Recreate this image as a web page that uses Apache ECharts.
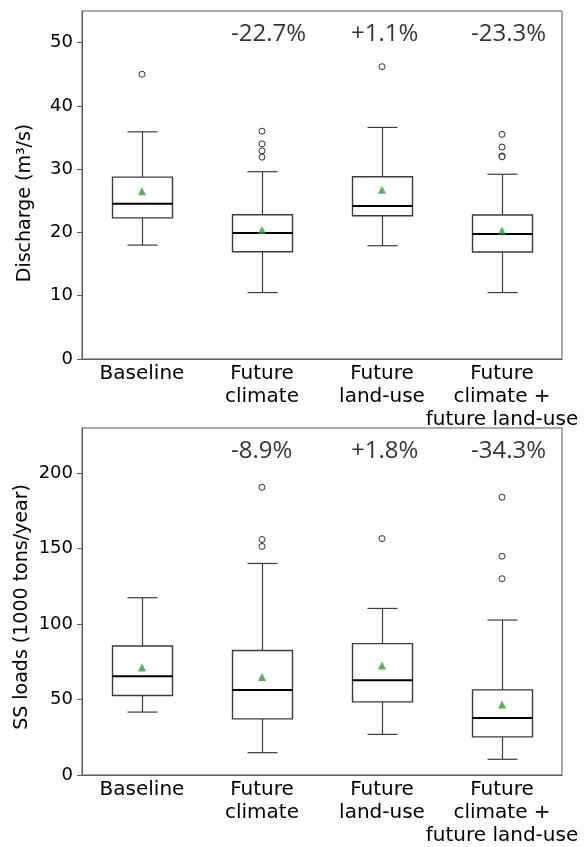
<!DOCTYPE html>
<html>
<head>
<meta charset="utf-8">
<script src="https://cdn.jsdelivr.net/npm/echarts@6/dist/echarts.min.js"></script>
<style>
html,body{margin:0;padding:0;background:#fff;}
#chart{width:584px;height:847px;}
</style>
</head>
<body>
<div id="chart"></div>
<script>
// ---------- data ----------
const categories = ['Baseline', 'Future\nclimate', 'Future\nland-use', 'Future\nclimate +\nfuture land-use'];

// [lower whisker, Q1, median, Q3, upper whisker]
const dischargeStats = [
  [18.0, 22.3, 24.55, 28.75, 35.9],
  [10.5, 16.95, 19.9, 22.8, 29.6],
  [17.9, 22.65, 24.2, 28.8, 36.6],
  [10.5, 16.9, 19.75, 22.75, 29.2]
];
const dischargeMeans = [26.5, 20.4, 26.75, 20.3];
const dischargeOutliers = [[45.0], [36.0, 34.0, 32.9, 31.9], [46.2], [35.5, 33.5, 32.1, 31.95]];
const dischargeChanges = ['', '-22.7%', '+1.1%', '-23.3%'];

const ssStats = [
  [41.7, 52.7, 65.5, 85.5, 117.5],
  [14.8, 37.2, 56.4, 82.5, 140.2],
  [26.9, 48.5, 62.8, 87.1, 110.4],
  [10.4, 25.3, 37.7, 56.4, 102.7]
];
const ssMeans = [71.2, 65.0, 72.5, 46.8];
const ssOutliers = [[], [190.7, 156.1, 151.5], [156.7], [184.1, 145.0, 130.1]];
const ssChanges = ['', '-8.9%', '+1.8%', '-34.3%'];

const dischargeTicks = [0, 10, 20, 30, 40, 50];
const ssTicks = [0, 50, 100, 150, 200];

// ---------- styles ----------
const FONT = 'DejaVu Sans';
const edgeColor = '#3c3c3c';
const frameColor = '#5a5a5a';

function boxRender(params, api) {
  const x = api.value(0);
  const pLow = api.coord([x, api.value(1)]);
  const pQ1 = api.coord([x, api.value(2)]);
  const pMed = api.coord([x, api.value(3)]);
  const pQ3 = api.coord([x, api.value(4)]);
  const pHigh = api.coord([x, api.value(5)]);
  const band = api.size([1, 0])[0];
  const hb = band * 0.25, hc = band * 0.125;
  const cx = Math.round(pMed[0]) + 0.5;
  const s = {stroke: edgeColor, lineWidth: 1.2, fill: null};
  return {
    type: 'group',
    children: [
      {type: 'line', shape: {x1: cx, y1: pLow[1], x2: cx, y2: pQ1[1]}, style: s},
      {type: 'line', shape: {x1: cx, y1: pQ3[1], x2: cx, y2: pHigh[1]}, style: s},
      {type: 'line', shape: {x1: cx - hc, y1: pLow[1], x2: cx + hc, y2: pLow[1]}, style: s},
      {type: 'line', shape: {x1: cx - hc, y1: pHigh[1], x2: cx + hc, y2: pHigh[1]}, style: s},
      {type: 'rect', shape: {x: cx - hb, y: pQ3[1], width: 2 * hb, height: pQ1[1] - pQ3[1]}, style: {stroke: edgeColor, lineWidth: 1.4, fill: '#fff'}},
      {type: 'line', shape: {x1: cx - hb, y1: pMed[1], x2: cx + hb, y2: pMed[1]}, style: {stroke: '#000', lineWidth: 2}}
    ]
  };
}

function boxData(stats) {
  return stats.map((d, i) => [i].concat(d));
}
function outlierData(outs) {
  const r = [];
  outs.forEach((arr, i) => arr.forEach(v => r.push([i, v])));
  return r;
}
function meanData(means) {
  return means.map((v, i) => [i, v]);
}
function changeData(changes, yPos) {
  const r = [];
  changes.forEach((t, i) => { if (t) r.push({value: [i, yPos], name: t}); });
  return r;
}

const grids = [
  {left: 82, right: 22, top: 11, height: 348, show: true, borderColor: frameColor, borderWidth: 1},
  {left: 82, right: 22, top: 428, height: 348, show: true, borderColor: frameColor, borderWidth: 1}
];

function xAxis(gi) {
  return {
    type: 'category', gridIndex: gi, data: categories, boundaryGap: true,
    axisLine: {lineStyle: {color: frameColor, width: 1}},
    axisTick: {alignWithLabel: true, length: 5, lineStyle: {color: frameColor}},
    axisLabel: {fontFamily: FONT, fontSize: 20, color: '#000', lineHeight: 23, margin: 3, interval: 0}
  };
}
function yAxis(gi, max, interval) {
  return {
    type: 'value', gridIndex: gi, min: 0, max: max, interval: interval,
    splitLine: {show: false},
    axisLine: {show: true, lineStyle: {color: frameColor, width: 1}},
    axisTick: {show: true, length: 5, lineStyle: {color: frameColor}},
    axisLabel: {fontFamily: FONT, fontSize: 18, color: '#000', margin: 9, showMaxLabel: false}
  };
}

function seriesFor(gi, stats, means, outs, changes, labelY) {
  return [
    {type: 'custom', xAxisIndex: gi, yAxisIndex: gi, renderItem: boxRender, data: boxData(stats),
      encode: {x: 0, y: [1, 2, 3, 4, 5]}, z: 2, silent: true},
    {type: 'scatter', xAxisIndex: gi, yAxisIndex: gi, data: outlierData(outs), symbol: 'circle', symbolSize: 6,
      itemStyle: {color: '#fff', borderColor: '#000', borderWidth: 1}, z: 3, silent: true},
    {type: 'scatter', xAxisIndex: gi, yAxisIndex: gi, data: meanData(means), symbol: 'triangle', symbolSize: [8, 8],
      itemStyle: {color: '#2ca02c'}, z: 4, silent: true},
    {type: 'scatter', xAxisIndex: gi, yAxisIndex: gi, data: changeData(changes, labelY), symbolSize: 0, silent: true,
      label: {show: true, position: [-31, 0], align: 'left', verticalAlign: 'middle', formatter: p => p.name,
        fontFamily: 'Open Sans', fontSize: 24, color: '#000'}, z: 5}
  ];
}

const option = {
  animation: false,
  backgroundColor: '#fff',
  grid: grids,
  xAxis: [xAxis(0), xAxis(1)],
  yAxis: [yAxis(0, 55, dischargeTicks[1] - dischargeTicks[0]), yAxis(1, 230, ssTicks[1] - ssTicks[0])],
  series: [].concat(
    seriesFor(0, dischargeStats, dischargeMeans, dischargeOutliers, dischargeChanges, 51.3),
    seriesFor(1, ssStats, ssMeans, ssOutliers, ssChanges, 214.5)
  ),
  graphic: [
    {type: 'text', x: 25, y: 203, rotation: Math.PI / 2,
      style: {text: 'Discharge (m³/s)', font: '19px "DejaVu Sans"', fill: '#000', align: 'center', verticalAlign: 'middle'}},
    {type: 'text', x: 22, y: 607, rotation: Math.PI / 2,
      style: {text: 'SS loads (1000 tons/year)', font: '19px "DejaVu Sans"', fill: '#000', align: 'center', verticalAlign: 'middle'}}
  ]
};

const chart = echarts.init(document.getElementById('chart'), null, {renderer: 'canvas'});
chart.setOption(option);
</script>
</body>
</html>
